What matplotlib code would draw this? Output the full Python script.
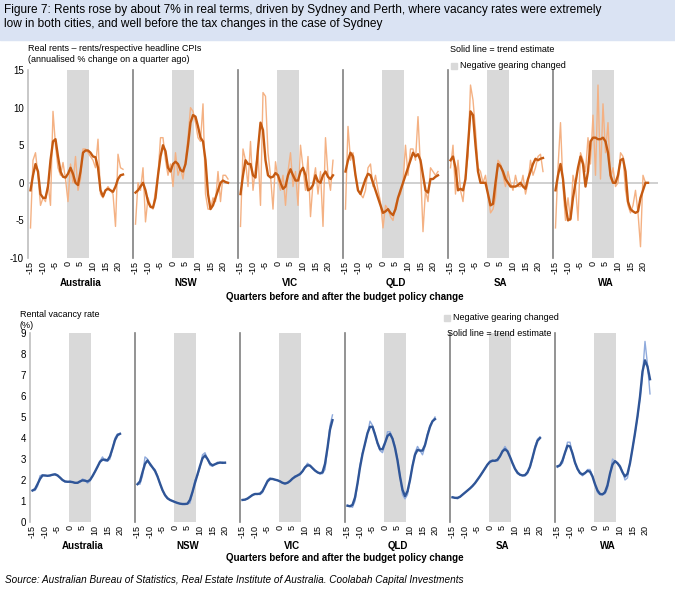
import numpy as np
import pandas as pd
import matplotlib
matplotlib.use("Agg")
import matplotlib.pyplot as plt
from matplotlib.patches import Rectangle

plt.rcParams['font.family'] = ['Liberation Sans', 'DejaVu Sans']

STATES = ["Australia", "NSW", "VIC", "QLD", "SA", "WA"]
START_Q = -15

# Real rents, annualised % change q/q - raw series
rent_raw = {
    "Australia": [-6, 3, 4, 1, -3, -2, -2.5, 0, -3, 9.5, 5, 2, 1, 2.7, 0.5, -2.5, 2.5, 0, 3.5, -1, 0.5, 4.5, 4.5, 4,
                  3.5, 3, 2, 5.8, -1.5, -2, -1, -0.5, -1, -1.5, -5.8, 3.8, 2, 1.8],
    "NSW": [-5.5, 0, -1, 2, -5.2, -2, -3, -3.5, -1, 1, 6, 6, 3, 1, 2.5, -0.5, 4, 1, 2, 0.5, 3, 6, 10, 9.5, 8, 6, 5.5,
            10.5, -1.5, -3.5, -3.5, -2, -2.5, 1.5, -2.5, 1, 1, 0.5],
    "VIC": [-5.8, 4.5, 3, -0.5, 5.5, -1, 2, 4, -3, 12, 11.5, 4, 1, -3.5, 2.8, 0.5, -1, 1, -3, 1.5, 4, -0.5, 1.5, -3,
            5, 2, -1, 3.5, -4.5, 0, 2, -1.5, 1.5, -5.8, 6, 1, -1, 3],
    "QLD": [-3.5, 7.5, 3, 4, 1, -1, -1.5, -2, -1, 2, 2.5, -0.5, 1, -1, -2.5, -6, -3, -3.5, -4.5, -5, -3, -2, -1.5, 0,
            5, 1, 4.5, 4.5, 3, 8.8, 2, -6.5, -1, -2.5, 2, 1.5, 1, 1.5],
    "SA": [2, 5, -1.5, 3, -1, -2.5, 1, 3.5, 13, 11, 7, 2, 1.5, 0, 1, -1.5, -4, -3.5, -2, 3, 2.5, 1, -0.5, 1.5, 0, -1,
           1, -0.5, -0.5, 1, -1.5, 0, 3, 1, 2, 3.5, 3.8, 1.5],
    "WA": [-6, 2, 8, -0.5, -5, -2, -5, 1, -0.5, -5, 4, 3, 1.5, 6, 2.5, 9, 1, 13, 0.5, 10.5, 4, 8, 0.5, 2, -0.5, 0, 4,
           3.5, -1, -3, -4, -3, -1, -4, -8.5, 1, 0, 0],
}
# trend estimates
rent_trend = {
    "Australia": [-1, 1, 2.5, 1.5, -1.5, -2, -2, -0.5, 3, 5.5, 5.8, 3.5, 1.5, 0.8, 0.7, 1.2, 2, 1.2, 0, -0.3, 1.5, 4,
                  4.3, 4.3, 4, 3.5, 3.4, 2, -1, -1.8, -1, -0.8, -1, -1.2, -0.5, 0.5, 1, 1.1],
    "NSW": [-1.3, -1, -0.5, 0, -1, -2.5, -3.2, -3.3, -2, 1, 3.5, 5, 4.2, 2, 1.5, 2.5, 2.8, 2.5, 1.7, 1.5, 2.5, 5, 8, 9,
            8.8, 7.5, 6, 5.5, 3, -1.5, -3.5, -3, -2, -1, 0, 0.3, 0.1, 0],
    "VIC": [-1.5, 1, 3, 2.5, 2.5, 1, 0.7, 4.5, 8, 7, 3, 1, 0.7, 0.8, 1.3, 1, 0, -0.8, -0.5, 1, 1.8, 1, 0.3, 0.3, 1.5,
            2, 1, -1, -0.8, -0.3, 1, 0.2, 0, 1, 1.5, 0.8, 0.5, 1],
    "QLD": [1.5, 3, 4, 3.5, 1, -1, -1.5, -0.5, 0.5, 1.2, 1, 0, -1, -2, -3, -4, -3.8, -3.5, -4, -4.3, -3.5, -2, -1, 0,
            1, 2, 3, 4, 3.5, 3.8, 3, 1, -1, -1.3, 0.5, 0.5, 0.8, 1],
    "SA": [3, 3.5, 2, -1, -0.8, -1, 0.5, 5, 9.5, 9, 5, 1.5, 0, 0, 0, -1.5, -3, -2.8, 0, 2.5, 2.2, 1.5, 0.5, 0, -0.5,
           -0.5, -0.5, -0.3, 0, -0.5, -0.8, 0.5, 1.5, 2.5, 3.2, 3, 3.2, 3.3],
    "WA": [-1, 1, 2.5, 0.5, -3, -5, -4.8, -2, 0, 2, 3.5, 2.5, -0.5, 1.5, 5.5, 6, 6, 5.8, 5.8, 6, 5.5, 4, 1, 0, 0, 1,
           3, 3.2, 1.5, -2.5, -3.5, -3.8, -4, -3.8, -2, -1, 0, 0],
}

# Rental vacancy rate (%)
vacancy = {
    "Australia": [1.5, 1.5, 1.7, 2.2, 2.25, 2.2, 2.2, 2.2, 2.25, 2.3, 2.25, 2.1, 2.0, 1.9, 1.9, 1.95, 1.9, 1.85,
                  1.85, 1.9, 2.05, 2.0, 1.85, 1.95, 2.2, 2.4, 2.6, 2.9, 3.1, 2.9, 2.9, 3.0, 3.5, 4.0, 4.2, 4.2],
    "NSW": [1.8, 1.8, 2.2, 3.1, 3.0, 2.7, 2.6, 2.5, 2.2, 1.8, 1.5, 1.25, 1.1, 1.05, 1.0, 0.95, 0.9, 0.87, 0.85, 0.85,
            0.87, 0.9, 1.4, 2.0, 2.2, 2.6, 3.2, 3.3, 3.0, 2.7, 2.65, 2.75, 2.85, 2.8, 2.85, 2.8],
    "VIC": [1.05, 1.05, 1.1, 1.2, 1.3, 1.35, 1.35, 1.3, 1.4, 1.7, 2.0, 2.1, 2.05, 2.0, 2.0, 1.95, 1.85, 1.8, 1.85,
            1.95, 2.05, 2.2, 2.2, 2.25, 2.4, 2.6, 2.8, 2.7, 2.55, 2.45, 2.35, 2.3, 2.3, 2.5, 3.5, 4.6, 5.1],
    "QLD": [0.8, 0.75, 0.7, 1.0, 1.8, 2.7, 3.3, 3.7, 4.2, 4.8, 4.6, 4.2, 3.7, 3.4, 3.3, 3.7, 4.3, 4.3, 4.0, 3.6, 3.0,
            2.2, 1.3, 1.1, 1.3, 2.0, 2.7, 3.3, 3.6, 3.4, 3.2, 3.6, 4.2, 4.6, 4.8, 5.0],
    "SA": [1.2, 1.15, 1.1, 1.2, 1.3, 1.4, 1.5, 1.6, 1.7, 1.85, 2.0, 2.2, 2.35, 2.55, 2.75, 2.9, 2.95, 2.9, 2.9, 3.1,
           3.4, 3.6, 3.4, 3.1, 2.8, 2.5, 2.3, 2.25, 2.2, 2.2, 2.3, 2.6, 3.0, 3.6, 3.95, 4.05],
    "WA": [2.6, 2.7, 2.8, 3.3, 3.8, 3.8, 3.2, 2.8, 2.5, 2.3, 2.2, 2.3, 2.5, 2.5, 2.2, 1.8, 1.4, 1.3, 1.3, 1.35, 1.6,
           2.3, 3.0, 2.9, 2.8, 2.7, 2.4, 2.0, 2.1, 2.8, 3.5, 4.2, 5.0, 5.9, 7.0, 8.6, 7.5, 6.1],
}

SHADE = (-0.5, 8.5)
XTICKS = [-15, -10, -5, 0, 5, 10, 15, 20]
W, H = 675, 589

fig = plt.figure(figsize=(W / 100, H / 100), dpi=100)


def px(x, y):
    return x / W, 1 - y / H


def draw_block(top, bottom, left, label_y, ylim, yticks, raw_d, trend_d, c_raw, c_trend, zero_line):
    pw = 105
    for i, st in enumerate(STATES):
        x0, y0 = px(left + i * pw, bottom)
        ax = fig.add_axes([x0, y0, pw / W, (bottom - top) / H])
        ax.set_xlim(-16, 26)
        ax.set_ylim(*ylim)
        ax.axvspan(*SHADE, color="#d9d9d9", lw=0, zorder=0)
        raw = np.array(raw_d[st])
        q = np.arange(START_Q, START_Q + len(raw))
        if trend_d is None:
            trend = pd.Series(raw).rolling(3, center=True, min_periods=1).mean().values
        else:
            trend = np.array(trend_d[st])
        if zero_line:
            ax.axhline(0, color="#c8c8c8", lw=1.2, zorder=1)
        ax.plot(q, raw, color=c_raw, lw=1.0, zorder=2)
        ax.plot(q, trend, color=c_trend, lw=1.7, zorder=3)
        for s in ["top", "right", "bottom"]:
            ax.spines[s].set_visible(False)
        ax.spines["left"].set_color("#808080" if i else "#bfbfbf")
        ax.spines["left"].set_linewidth(1.2)
        ax.set_xticks(XTICKS)
        ax.set_xticklabels([str(t) for t in XTICKS], rotation=90, fontsize=6.5)
        ax.tick_params(axis="x", length=0, pad=2)
        if i == 0:
            ax.set_yticks(yticks)
            ax.set_yticklabels([str(t) for t in yticks], fontsize=7)
            ax.tick_params(axis="y", length=0, pad=3)
        else:
            ax.set_yticks([])
        fig.text(*px(left + i * pw + pw * 0.5, label_y), st, ha="center", va="center",
                 fontsize=7, fontweight="bold")


draw_block(70, 258, 28, 283, (-10, 15), [-10, -5, 0, 5, 10, 15], rent_raw, rent_trend,
           "#f4b183", "#c55a11", True)
draw_block(333, 522, 30, 546, (0, 9), list(range(10)), vacancy, None,
           "#8faadc", "#2f5597", False)

# title box
fig.patches.append(Rectangle(px(0, 40), 1, 40 / H, transform=fig.transFigure,
                             color="#dae3f3", zorder=0))
fig.text(*px(4, 4), "Figure 7: Rents rose by about 7% in real terms, driven by Sydney and Perth, where vacancy rates were extremely\n"
         "low in both cities, and well before the tax changes in the case of Sydney",
         fontsize=8.6, va="top", ha="left", linespacing=1.2)

# top annotations
fig.text(*px(28, 44), "Real rents \u2013 rents/respective headline CPIs\n(annualised % change on a quarter ago)",
         fontsize=6.5, va="top", ha="left", linespacing=1.35)
fig.text(*px(450, 49), "Solid line = trend estimate", fontsize=6.5, va="center")
fig.patches.append(Rectangle(px(451, 69), 6 / W, 6 / H, transform=fig.transFigure, color="#d9d9d9"))
fig.text(*px(460, 66), "Negative gearing changed", fontsize=6.5, va="center")
fig.text(*px(345, 297), "Quarters before and after the budget policy change", fontsize=7,
         fontweight="bold", ha="center", va="center")

# bottom annotations
fig.text(*px(20, 310), "Rental vacancy rate\n(%)", fontsize=6.5, va="top", ha="left", linespacing=1.35)
fig.patches.append(Rectangle(px(444, 321), 6 / W, 6 / H, transform=fig.transFigure, color="#d9d9d9"))
fig.text(*px(453, 318), "Negative gearing changed", fontsize=6.5, va="center")
fig.text(*px(447, 334), "Solid line = trend estimate", fontsize=6.5, va="center")
fig.text(*px(345, 558), "Quarters before and after the budget policy change", fontsize=7,
         fontweight="bold", ha="center", va="center")

fig.text(*px(5, 580), "Source: Australian Bureau of Statistics, Real Estate Institute of Australia. Coolabah Capital Investments",
         fontsize=7.2, style="italic", va="center")

fig.savefig("out.png", dpi=100)
